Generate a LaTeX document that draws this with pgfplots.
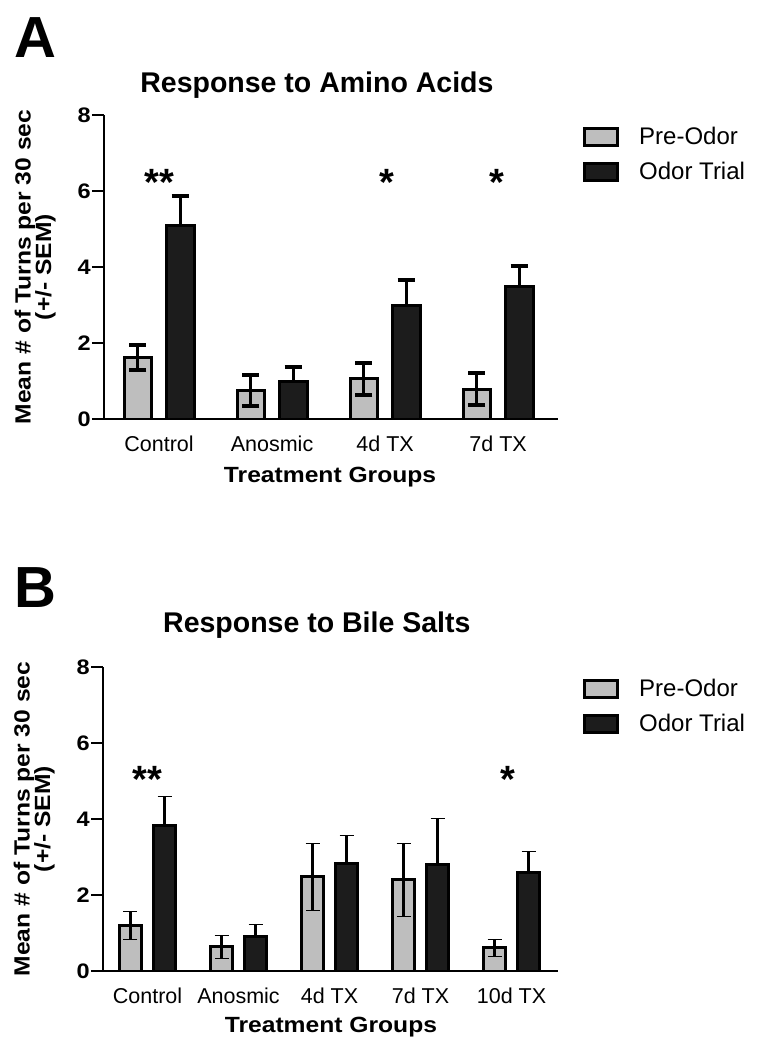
\documentclass[border=0pt]{standalone}
\usepackage{fontspec}
\setmainfont{Liberation Sans}
\newfontfamily\labelfont[FakeStretch=1.12]{Liberation Sans}
\usepackage{pgfplots}
\pgfplotsset{compat=1.18}
\definecolor{pregray}{RGB}{190,190,190}
\definecolor{odorblack}{RGB}{28,28,28}

\pgfplotsset{
  mybars/.style={
    ybar, scale only axis, height=304pt,
    ymin=0, ymax=8, ytick={0,2,4,6,8},
    axis x line*=bottom, axis y line*=left,
    axis line style={line width=2.5pt, black},
    ytick style={line width=2.5pt, black},
    major tick length=12pt,
    tick align=outside,
    xtick style={draw=none},
    /pgf/number format/assume math mode=true,
    yticklabel style={font=\labelfont\fontsize{21}{21}\selectfont\bfseries, inner sep=0pt, xshift=-1pt},
    xticklabel style={font=\fontsize{21.5}{21.5}\selectfont, anchor=base, yshift=-20pt},
    bar width=0.245,
    xtick={0,1,2,3,4},
    ylabel={Mean \# of Turns per 30 sec\\[-1.5pt](+/- SEM)},
    ylabel style={font=\labelfont\fontsize{22}{22}\selectfont\bfseries, align=center, at={(rel axis cs:-0.1057,0.5)}, anchor=south, inner sep=0pt},
    xlabel={Treatment Groups},
    xlabel style={font=\labelfont\fontsize{22}{22}\selectfont\bfseries, at={(rel axis cs:0.498,0)}, anchor=base, inner sep=0pt},
    title style={font=\fontsize{28.5}{28.5}\selectfont\bfseries, at={(rel axis cs:0.469,1)}, anchor=base, inner sep=0pt},
    legend style={draw=none, fill=none, at={(rel axis cs:1,1)}, anchor=north west, xshift=22pt, yshift=-8pt,
      font=\fontsize{24}{24}\selectfont, row sep=12pt, legend cell align=left,
      /tikz/every odd column/.append style={column sep=18pt}},
  },
  prebar/.style={fill=pregray, draw=black, line width=3pt, bar shift=-0.187,
    legend image code/.code={\draw[fill=pregray, draw=black, line width=3pt] (0pt,-8.5pt) rectangle (33pt,8.5pt);},
    error bars/.cd, y dir=both, y explicit, error mark=|,
    error bar style={line width=3pt, black},
    error mark options={line width=4pt, mark size=8.5pt, black}},
  odorbar/.style={fill=odorblack, draw=black, line width=3pt, bar shift=0.187,
    legend image code/.code={\draw[fill=odorblack, draw=black, line width=3pt] (0pt,-8.5pt) rectangle (33pt,8.5pt);},
    error bars/.cd, y dir=plus, y explicit, error mark=|,
    error bar style={line width=3pt, black},
    error mark options={line width=4pt, mark size=8.5pt, black}},
}

\begin{document}
\begin{tikzpicture}
\useasboundingbox (0pt,0pt) rectangle (765pt,-1050pt);

\node[anchor=base west, inner sep=0pt, font=\fontsize{58}{58}\selectfont\bfseries] at (14pt,-57pt) {A};
\node[anchor=base west, inner sep=0pt, font=\fontsize{58}{58}\selectfont\bfseries] at (14pt,-607pt) {B};

% Panel A
\begin{axis}[mybars, at={(104pt,-419pt)}, anchor=south west, width=454pt,
  xmin=-0.487, xmax=3.53,
  xticklabels={Control,Anosmic,4d TX,7d TX},
  title={Response to Amino Acids}, title style={yshift=17pt},
  xlabel style={yshift=-63pt}]
\addplot[prebar] coordinates {(0,1.62) +- (0,0.32) (1,0.74) +- (0,0.41) (2,1.06) +- (0,0.42) (3,0.78) +- (0,0.42)};
\addplot[odorbar] coordinates {(0,5.10) +- (0,0.78) (1,1.00) +- (0,0.36) (2,3.00) +- (0,0.66) (3,3.49) +- (0,0.54)};
\legend{Pre-Odor, Odor Trial}
\node[anchor=base, inner sep=0pt, font=\fontsize{38}{38}\selectfont\bfseries] at (axis cs:0,5.87) {**};
\node[anchor=base, inner sep=0pt, font=\fontsize{38}{38}\selectfont\bfseries] at (axis cs:2.02,5.87) {*};
\node[anchor=base, inner sep=0pt, font=\fontsize{38}{38}\selectfont\bfseries] at (axis cs:2.99,5.87) {*};
\end{axis}

% Panel B
\begin{axis}[mybars, at={(103pt,-971pt)}, anchor=south west, width=455pt,
  xmin=-0.489, xmax=4.51,
  xticklabels={Control,Anosmic,4d TX,7d TX,10d TX},
  title={Response to Bile Salts}, title style={at={(rel axis cs:0.470,1)}, yshift=29pt},
  xlabel style={at={(rel axis cs:0.501,0)}, yshift=-61pt},
  ylabel style={at={(rel axis cs:-0.1055,0.5)}}]
\addplot[prebar, error mark options={mark size=7pt}] coordinates {(0,1.21) +- (0,0.36) (1,0.64) +- (0,0.29) (2,2.48) +- (0,0.88) (3,2.41) +- (0,0.96) (4,0.61) +- (0,0.22)};
\addplot[odorbar, error mark options={mark size=7pt}] coordinates {(0,3.83) +- (0,0.76) (1,0.91) +- (0,0.33) (2,2.82) +- (0,0.75) (3,2.81) +- (0,1.21) (4,2.59) +- (0,0.55)};
\legend{Pre-Odor, Odor Trial}
\node[anchor=base, inner sep=0pt, font=\fontsize{38}{38}\selectfont\bfseries] at (axis cs:0,4.69) {**};
\node[anchor=base, inner sep=0pt, font=\fontsize{38}{38}\selectfont\bfseries] at (axis cs:3.96,4.69) {*};
\end{axis}
\end{tikzpicture}
\end{document}
